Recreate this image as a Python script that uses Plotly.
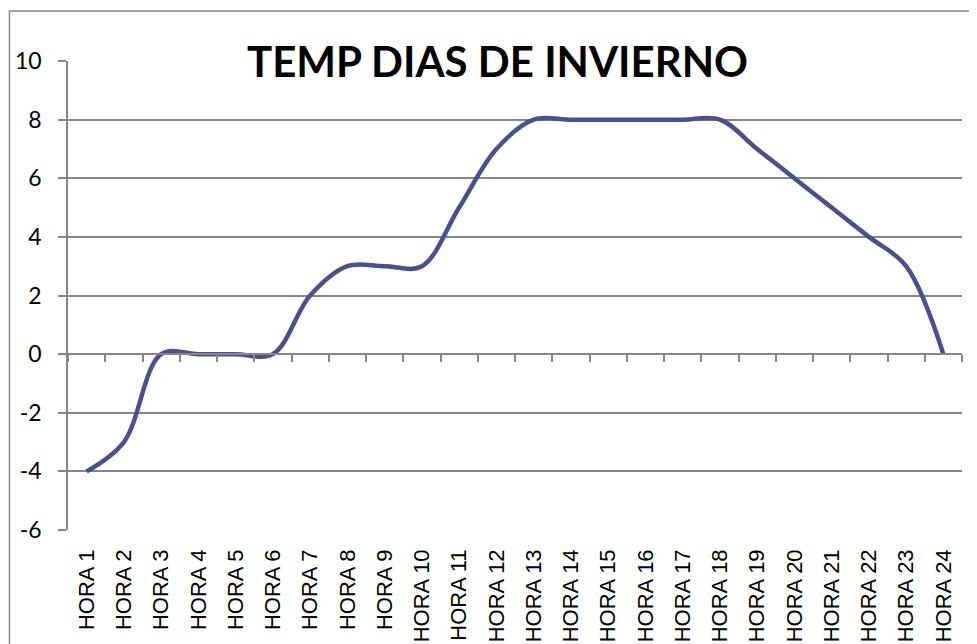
import plotly.graph_objects as go

categories = ["HORA %d" % i for i in range(1, 25)]
temps = [-4, -3, 0, 0, 0, 0, 2, 3, 3, 3, 5, 7, 8, 8, 8, 8, 8, 8, 7, 6, 5, 4, 3, 0]
y_ticks = [-6, -4, -2, 0, 2, 4, 6, 8, 10]
y_tick_labels = [str(v) for v in y_ticks]
title_text = "TEMP DIAS DE INVIERNO"

GRID = "#868686"
LINE = "#4B4F8F"

# page body has an 8px default margin; compensate so the figure lands on the window
OFF = 8
WIN_W, WIN_H = 977, 644
W, H = WIN_W - OFF, WIN_H - OFF
# target plot box in window pixels: x 68..962, y 61..530
ML = 68 - OFF
MT = 61 - OFF
MR = WIN_W - 962
MB = WIN_H - 530
pw = W - ML - MR
ph = H - MT - MB

fig = go.Figure()
fig.add_trace(go.Scatter(
    x=categories, y=temps, mode="lines",
    line=dict(color=LINE, width=4.5, shape="spline", smoothing=1.0),
    hoverinfo="x+y", showlegend=False,
))
# invisible twin trace so the zero-crossing category axis is drawn
fig.add_trace(go.Scatter(
    x=categories, y=temps, mode="lines", xaxis="x2", yaxis="y",
    line=dict(color="rgba(0,0,0,0)", width=0), hoverinfo="skip", showlegend=False,
))

ymin, ymax = y_ticks[0], y_ticks[-1]
zero_pos = (0 - ymin) / (ymax - ymin)

# frame corners in window pixels
fx0, fy0 = 9.5, 11

fig.update_layout(
    width=W, height=H,
    margin=dict(l=ML, r=MR, t=MT, b=MB, pad=0, autoexpand=False),
    paper_bgcolor="white", plot_bgcolor="white",
    title=dict(
        text="<b>%s</b>" % title_text,
        font=dict(family="Lato", size=42, color="black"),
        xref="paper", x=(497.5 - 68) / pw, xanchor="center",
        yref="container", y=1 - (62 - OFF) / H, yanchor="middle",
    ),
    xaxis=dict(
        type="category", categoryorder="array", categoryarray=categories,
        range=[-0.5, len(categories) - 0.5],
        showgrid=False, showline=False, zeroline=False, ticks="",
        tickangle=-90, ticklabelstandoff=14,
        tickfont=dict(family="Liberation Sans", size=22, color="black"),
    ),
    xaxis2=dict(
        type="category", categoryorder="array", categoryarray=categories,
        range=[-0.5, len(categories) - 0.5],
        overlaying="x", anchor="free", position=zero_pos, side="bottom",
        showgrid=False, zeroline=False, showticklabels=False,
        showline=True, linecolor=GRID, linewidth=1.5,
        ticks="outside", tickson="boundaries", ticklen=7, tickcolor=GRID, tickwidth=1.5,
    ),
    yaxis=dict(
        range=[ymin, ymax], tickvals=y_ticks, ticktext=y_tick_labels,
        showgrid=True, gridcolor=GRID, gridwidth=1.5,
        zeroline=False, showline=True, linecolor=GRID, linewidth=1.5,
        ticks="outside", ticklen=8, tickcolor=GRID, tickwidth=1.5,
        ticklabelstandoff=12,
        tickfont=dict(family="Lato", size=23, color="black"),
    ),
    shapes=[dict(
        type="rect", xref="paper", yref="paper", layer="below",
        x0=(fx0 - 68) / pw, x1=(WIN_W + 20 - 68) / pw,
        y0=-(WIN_H + 20 - 530) / ph, y1=1 + (61 - fy0) / ph,
        line=dict(color=GRID, width=1.5), fillcolor="rgba(0,0,0,0)",
    )],
)

fig.write_html("out.html")
